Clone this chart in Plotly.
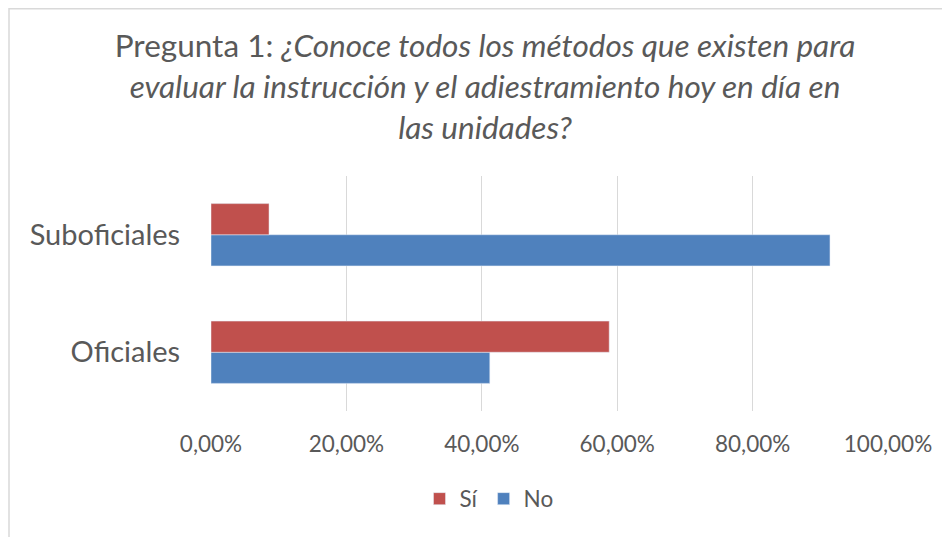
import plotly.graph_objects as go

categories = ["Oficiales", "Suboficiales"]
si_values = [0.5882, 0.0857]
no_values = [0.4118, 0.9143]
tick_values = [0, 0.2, 0.4, 0.6, 0.8, 1.0]
tick_labels = ["0,00%", "20,00%", "40,00%", "60,00%", "80,00%", "100,00%"]

FONT = "Lato"
GRAY = "#595959"

fig = go.Figure()
fig.add_trace(go.Bar(
    y=categories, x=no_values, name="No", orientation="h",
    marker=dict(color="#4F81BD"), legendrank=2,
))
fig.add_trace(go.Bar(
    y=categories, x=si_values, name="Sí", orientation="h",
    marker=dict(color="#C0504D"), legendrank=1,
))

OFF = 8  # page body margin
W, H = 950, 537
L = 211 - OFF
T = 176 - OFF
R = W - (888 - OFF)
B = H - (411 - OFF)
pw, ph = W - L - R, H - T - B

def px(x):
    return (x - OFF - L) / pw

def py(y):
    return (H - B - (y - OFF)) / ph

fig.update_layout(
    width=W, height=H,
    margin=dict(l=L, r=R, t=T, b=B),
    paper_bgcolor="white", plot_bgcolor="white",
    barmode="group", bargap=0.47, bargroupgap=0,
    font=dict(family=FONT, color=GRAY),
    title=dict(
        text="Pregunta 1: <i>¿Conoce todos los métodos que existen para<br>evaluar la instrucción y el adiestramiento hoy en día en<br>las unidades?</i>",
        x=(485 - OFF) / W, xanchor="center", xref="container",
        y=1 - (57 - OFF) / H, yanchor="middle", yref="container",
        font=dict(size=31.5, color=GRAY, family=FONT),
    ),
    xaxis=dict(
        range=[0, 1.0], tickvals=tick_values, ticktext=tick_labels,
        showgrid=True, gridcolor="#D9D9D9", gridwidth=1,
        zeroline=False, showline=False,
        ticks="outside", ticklen=13, tickcolor="rgba(0,0,0,0)",
        tickfont=dict(size=22.5, color=GRAY, family=FONT),
    ),
    yaxis=dict(
        showgrid=False, zeroline=False, showline=False,
        ticks="outside", ticklen=24, tickcolor="rgba(0,0,0,0)",
        tickfont=dict(size=29, color=GRAY, family=FONT),
    ),
    legend=dict(
        orientation="h", x=px(489), xanchor="center",
        y=py(499), yanchor="middle",
        font=dict(size=22.5, color=GRAY, family=FONT),
        bgcolor="rgba(0,0,0,0)",
    ),
    shapes=[dict(
        type="rect", xref="paper", yref="paper",
        x0=px(9), x1=px(961), y0=py(541), y1=py(8.7),
        line=dict(color="#D9D9D9", width=1.5), fillcolor="rgba(0,0,0,0)",
        layer="below",
    )],
)

fig.write_html("out.html")
